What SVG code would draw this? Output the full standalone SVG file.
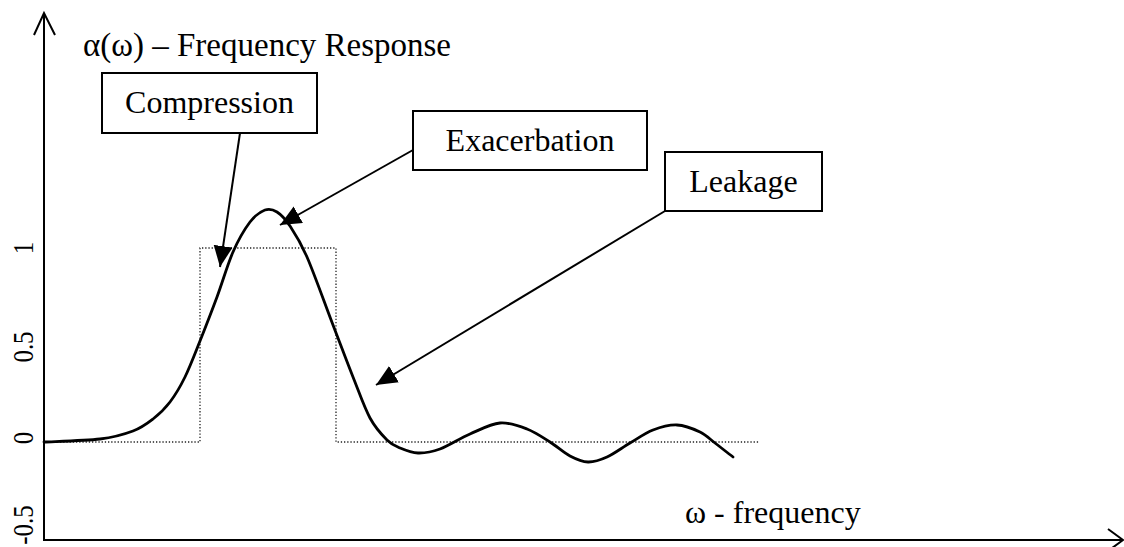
<svg xmlns="http://www.w3.org/2000/svg" width="1124" height="547" viewBox="0 0 1124 547">
  <style>
    .lbl { font-family: "Liberation Serif", "Times New Roman", serif; font-size: 32px; fill: #000; }
    .title { font-size: 33px; }
    .tick { font-family: "Liberation Serif", "Times New Roman", serif; font-size: 30px; fill: #000; text-anchor: middle; }
    .box { fill: #fff; stroke: #000; stroke-width: 2; }
    .axis { fill: none; stroke: #000; stroke-width: 2; }
    .conn { fill: none; stroke: #000; stroke-width: 2; }
  </style>
  <defs>
    <marker id="head" markerUnits="userSpaceOnUse" markerWidth="22" markerHeight="20" refX="21" refY="9.5" orient="auto">
      <path d="M0,0 L21,9.5 L0,19 Z" fill="#000"/>
    </marker>
  </defs>
  <rect width="1124" height="547" fill="#fff"/>

  <!-- axes -->
  <g id="axes">
    <line class="axis" x1="44" y1="14" x2="44" y2="541"/>
    <polyline class="axis" points="34,35 44,13 55,35"/>
    <line class="axis" x1="43" y1="540" x2="1122" y2="540"/>
    <polyline class="axis" points="1108,529 1123,540 1108,551"/>
    <!-- value labels, condensed along the reading direction -->
    <text class="tick" transform="translate(33,248) rotate(-90) scale(0.83,1)">1</text>
    <text class="tick" transform="translate(33,347) rotate(-90) scale(0.83,1)">0.5</text>
    <text class="tick" transform="translate(33,438) rotate(-90) scale(0.83,1)">0</text>
    <text class="tick" transform="translate(33,525) rotate(-90) scale(0.83,1)">-0.5</text>
    <text class="lbl title" x="83" y="56">α(ω) – Frequency Response</text>
    <text class="lbl" x="685" y="523">ω - frequency</text>
  </g>

  <!-- ideal rectangular pass band -->
  <g id="ideal">
    <polyline points="44,442 200,442 200,248 336,248 336,442 760,442" fill="none" stroke="#222" stroke-width="1.3" stroke-dasharray="1.3 1.9"/>
  </g>

  <!-- actual response -->
  <g id="response">
    <path d="M44,442 C53.3,441.5 85.2,440.8 100,439 C114.8,437.2 124.2,434.3 133,431 C141.8,427.7 146.8,423.8 153,419 C159.2,414.2 164.7,409 170,402 C175.3,395 180,387.2 185,377 C190,366.8 194.7,354.3 200,341 C205.3,327.7 211.5,311.8 217,297 C222.5,282.2 227.5,264.5 233,252 C238.5,239.5 244.7,229 250,222 C255.3,215 260.5,211.7 265,210 C269.5,208.3 272.8,209.3 277,212 C281.2,214.7 285,218.5 290,226 C295,233.5 299.8,240.5 307,257 C314.2,273.5 325.3,305 333,325 C340.7,345 346.8,361.5 353,377 C359.2,392.5 364.3,407.5 370,418 C375.7,428.5 382,435 387,440 C392,445 394.8,445.8 400,448 C405.2,450.2 411.3,452.8 418,453 C424.7,453.2 431.3,452.2 440,449 C448.7,445.8 460,438.3 470,434 C480,429.7 490.5,423.8 500,423 C509.5,422.2 518.7,425.8 527,429 C535.3,432.2 542.8,437.5 550,442 C557.2,446.5 563.7,452.7 570,456 C576.3,459.3 581.8,461.8 588,462 C594.2,462.2 600,460.2 607,457 C614,453.8 622.3,447.5 630,443 C637.7,438.5 645.2,433 653,430 C660.8,427 669.2,424.7 677,425 C684.8,425.3 693.7,429 700,432 C706.3,435 709.5,438.8 715,443 C720.5,447.2 730,454.7 733,457" fill="none" stroke="#000" stroke-width="2.8" stroke-linecap="round" stroke-linejoin="round"/>
  </g>

  <!-- connectors -->
  <g id="connectors">
    <line class="conn" x1="240" y1="133" x2="220" y2="267" marker-end="url(#head)"/>
    <line class="conn" x1="413" y1="150" x2="280" y2="225" marker-end="url(#head)"/>
    <line class="conn" x1="665" y1="211" x2="376" y2="385" marker-end="url(#head)"/>
  </g>

  <g id="compression">
    <rect class="box" x="102" y="73" width="215" height="60"/>
    <text class="lbl" x="209.5" y="113" text-anchor="middle">Compression</text>
  </g>
  <g id="exacerbation">
    <rect class="box" x="413" y="111" width="234" height="59"/>
    <text class="lbl" x="530" y="151" text-anchor="middle">Exacerbation</text>
  </g>
  <g id="leakage">
    <rect class="box" x="665" y="152" width="157" height="59"/>
    <text class="lbl" x="743.5" y="192" text-anchor="middle">Leakage</text>
  </g>
</svg>
